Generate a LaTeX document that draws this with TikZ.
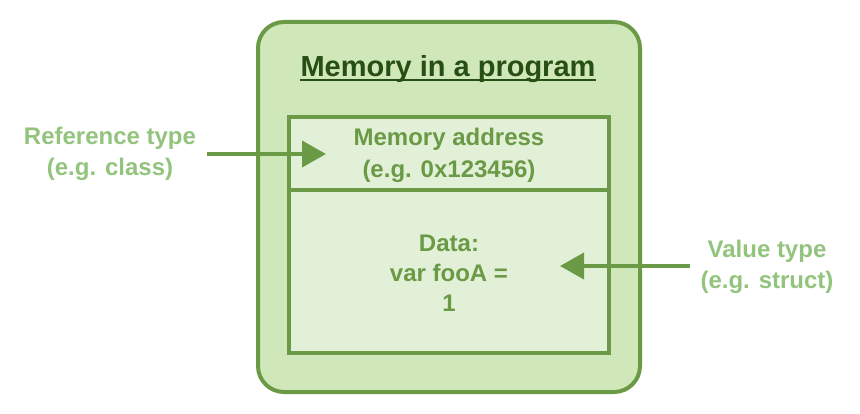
\documentclass[tikz,border=0pt]{standalone}
\usepackage{fontspec}
\setmainfont{Liberation Sans}
\usetikzlibrary{arrows.meta}
\definecolor{gstroke}{HTML}{6A9A45}
\definecolor{gouter}{HTML}{D0E7BA}
\definecolor{ginner}{HTML}{E3F0D8}
\definecolor{glabel}{HTML}{93C47D}
\definecolor{gtitle}{HTML}{274E13}
\tikzset{
  outerbox/.style={draw=gstroke, fill=gouter, line width=4pt, rounded corners=26pt, minimum width=382pt, minimum height=370pt, inner sep=0pt},
  cellbox/.style={draw=gstroke, fill=ginner, line width=4pt, minimum width=320pt, inner sep=0pt},
  celltext/.style={text=gstroke, font=\bfseries\fontsize{24}{30}\selectfont, align=center, inner sep=0pt},
  sidelabel/.style={text=glabel, font=\bfseries\fontsize{24}{31}\selectfont, align=center, inner sep=0pt},
  pointer/.style={draw=gstroke, line width=4pt, -{Triangle[length=24pt,width=26pt]}},
}
\begin{document}
\begin{tikzpicture}[x=1pt,y=-1pt]
\useasboundingbox (0,0) rectangle (860,414);
\node[outerbox] (outer) at (449,207) {};
\node[text=gtitle, font=\bfseries\fontsize{29}{34}\selectfont, inner sep=0pt, anchor=base] (title) at (448,77) {Memory in a program};
\draw[gtitle, line width=2.2pt] ([yshift=-3pt]title.base west) -- ([yshift=-3pt]title.base east);
\node[cellbox, minimum height=73pt] (addr) at (449,153.5) {};
\node[cellbox, minimum height=163pt] (data) at (449,271.5) {};
\node[celltext, font=\bfseries\fontsize{24}{32}\selectfont] (addrtext) at (449,155) {Memory address\\(e.g. 0x123456)};
\node[celltext] (datatext) at (449,273) {Data:\\var fooA =\\1};
\node[sidelabel] (ref) at (110,154) {Reference type\\(e.g. class)};
\node[sidelabel] (val) at (767,267) {Value type\\(e.g. struct)};
\coordinate (reftail) at (207,154);
\coordinate (reftip) at (326,154);
\coordinate (valtail) at (690,266);
\coordinate (valtip) at (560,266);
\draw[pointer] (reftail) -- (reftip);
\draw[pointer] (valtail) -- (valtip);
\end{tikzpicture}
\end{document}
